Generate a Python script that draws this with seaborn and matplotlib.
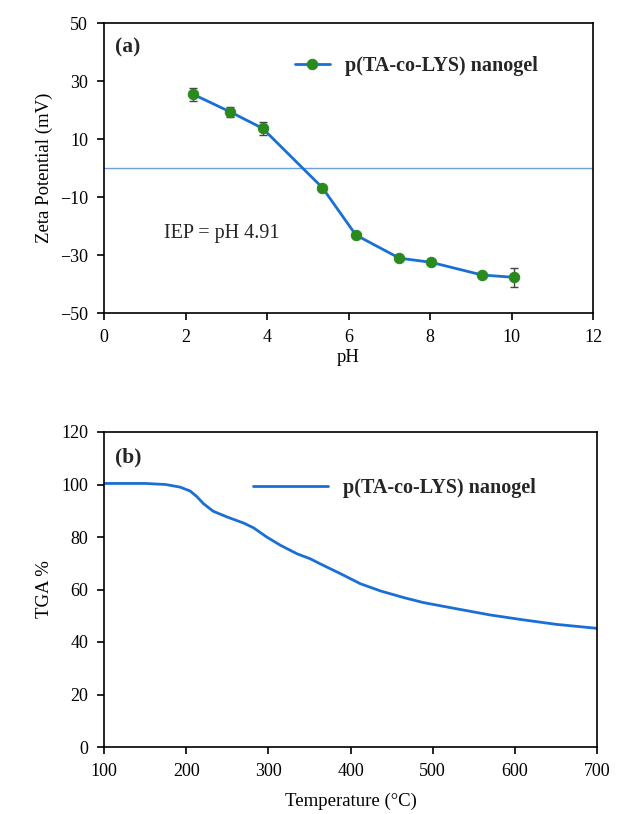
import numpy as np
import pandas as pd
import matplotlib
matplotlib.use("Agg")
import matplotlib.pyplot as plt
import seaborn as sns

# ---- data ----
ph = [2.19, 3.09, 3.89, 5.36, 6.18, 7.25, 8.02, 9.28, 10.06]
zeta = [25.4, 19.4, 13.7, -6.8, -23.1, -31.1, -32.5, -36.9, -37.7]
zeta_err = [2.3, 1.8, 2.3, 0.6, 0.5, 0.6, 0.6, 0.6, 3.3]

temp = [100, 150, 175, 192.7, 204.9, 213, 221, 233, 250, 270, 282, 298, 315,
        335, 351, 363, 388, 412, 437, 465, 489, 530, 570, 611, 651, 700]
tga = [100.4, 100.4, 100.0, 99.0, 97.5, 95.4, 92.7, 89.8, 87.6, 85.3, 83.5,
       80.0, 76.8, 73.6, 71.7, 69.8, 66.0, 62.2, 59.4, 56.9, 55.0, 52.6, 50.3,
       48.4, 46.7, 45.2]

series_label = "p(TA-co-LYS) nanogel"

sns.set_theme(style="white")
plt.rcParams['font.family'] = ['Liberation Serif', 'DejaVu Serif']

W, H = 631, 814
fig = plt.figure(figsize=(W / 100, H / 100), dpi=100)

def frac(l, t, r, b):
    return [l / W, 1 - b / H, (r - l) / W, (b - t) / H]

line_c = "#1a6fd6"
mk_c = "#2a8a1e"
tfs = 13
lfs = 13.5
legfs = 14.5

# ---- panel (a) ----
ax1 = fig.add_axes(frac(104, 23, 593, 313))
df1 = pd.DataFrame({"pH": ph, "zeta": zeta})
ax1.axhline(0, color="#6a9fe0", lw=1.0, zorder=1)
ax1.errorbar(ph, zeta, yerr=zeta_err, fmt="none", ecolor="#444444",
             elinewidth=1.0, capsize=3, capthick=1.0, zorder=2)
sns.lineplot(data=df1, x="pH", y="zeta", ax=ax1, color=line_c, lw=2,
             marker="o", markersize=7.5, markerfacecolor=mk_c,
             markeredgecolor=mk_c, label=series_label, zorder=3)
ax1.set_xlim(0, 12)
ax1.set_ylim(-50, 50)
ax1.set_xticks(range(0, 13, 2))
ax1.set_yticks(range(-50, 51, 20))
ax1.set_yticklabels(["\u221250", "\u221230", "\u221210", "10", "30", "50"])
ax1.set_xlabel("pH", fontsize=lfs, labelpad=2)
ax1.set_ylabel("Zeta Potential (mV)", fontsize=lfs, labelpad=5)
ax1.text(0.022, 0.915, "(a)", transform=ax1.transAxes, fontsize=15.5,
         fontweight="bold", va="center")
ax1.text(1.47, -22.5, "IEP = pH 4.91", fontsize=legfs, va="center")
ax1.legend(loc="center left", bbox_to_anchor=(0.39, 0.852), frameon=False,
           prop={"weight": "bold", "size": legfs}, handlelength=1.75,
           handletextpad=0.75, borderpad=0, borderaxespad=0)

# ---- panel (b) ----
ax2 = fig.add_axes(frac(104, 432, 597, 747))
df2 = pd.DataFrame({"T": temp, "TGA": tga})
sns.lineplot(data=df2, x="T", y="TGA", ax=ax2, color=line_c, lw=2,
             label=series_label)
ax2.set_xlim(100, 700)
ax2.set_ylim(0, 120)
ax2.set_xticks(range(100, 701, 100))
ax2.set_yticks(range(0, 121, 20))
ax2.set_xlabel("Temperature (\u00b0C)", fontsize=lfs, labelpad=9)
ax2.set_ylabel("TGA %", fontsize=lfs, labelpad=6)
ax2.text(0.022, 0.92, "(b)", transform=ax2.transAxes, fontsize=15.5,
         fontweight="bold", va="center")
ax2.legend(loc="center left", bbox_to_anchor=(0.302, 0.822), frameon=False,
           prop={"weight": "bold", "size": legfs}, handlelength=3.72,
           handletextpad=0.75, borderpad=0, borderaxespad=0)

for ax in (ax1, ax2):
    for s in ax.spines.values():
        s.set_color("black")
        s.set_linewidth(1.2)
    ax.tick_params(axis="both", which="major", direction="out", length=5,
                   width=1.2, color="black", labelsize=tfs, labelcolor="black",
                   bottom=True, left=True, pad=6.5)
    ax.xaxis.label.set_color("black")
    ax.yaxis.label.set_color("black")

fig.savefig("out.png", dpi=100)
